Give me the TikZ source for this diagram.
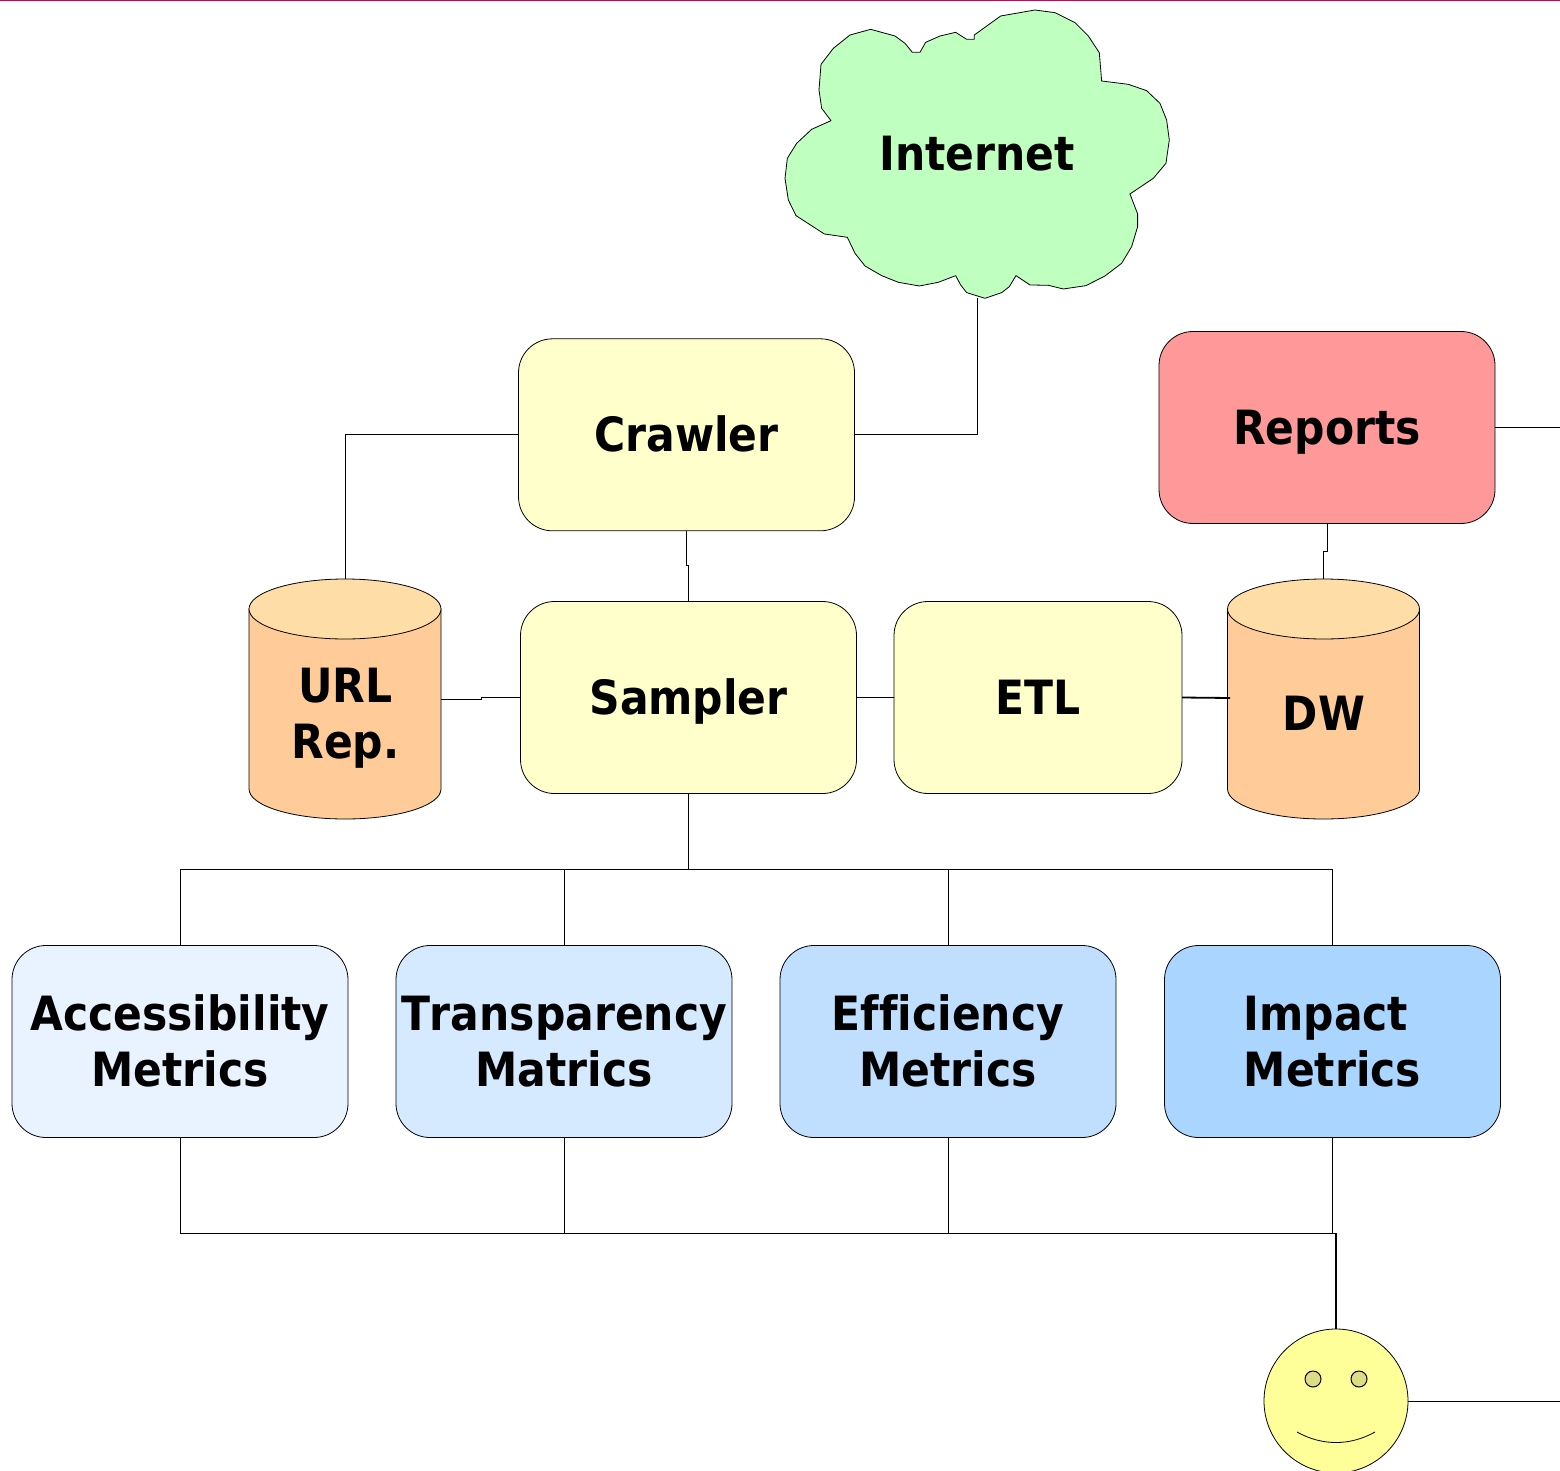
\documentclass[tikz,border=0pt]{standalone}
\usepackage{fontspec}
\setmainfont{DejaVu Sans Condensed}[BoldFont={DejaVu Sans Condensed Bold},Ligatures=NoCommon]
\newcommand{\st}{\rule[-10pt]{0pt}{54pt}}
\definecolor{cylbody}{HTML}{FFCC99}
\definecolor{cyltop}{HTML}{FFDDA6}
\definecolor{boxyellow}{HTML}{FFFFCC}
\definecolor{boxred}{HTML}{FF9999}
\definecolor{mone}{HTML}{E8F3FF}
\definecolor{mtwo}{HTML}{D5E9FF}
\definecolor{mthree}{HTML}{C0DFFF}
\definecolor{mfour}{HTML}{AAD5FF}
\definecolor{cloudgreen}{HTML}{BFFFBF}
\definecolor{smile}{HTML}{FFFF99}
\definecolor{eye}{HTML}{DDDD88}
\definecolor{topline}{HTML}{CC0055}
\tikzset{
  lab/.style={font=\fontsize{47.2}{56}\selectfont\bfseries,align=center,inner sep=0,outer sep=0},
  rbox/.style={lab,draw=black,line width=0.8pt,rounded corners=34pt,minimum width=336pt,minimum height=192pt},
  cylholder/.style={inner sep=0,outer sep=0,minimum width=192pt,minimum height=240pt},
  cylshape/.style={draw=black,line width=0.8pt},
  conn/.style={draw=black,line width=0.8pt},
  connthick/.style={draw=black,line width=1.8pt},
}
\newcommand{\cylinderat}[2]{%
  \path[cylshape,fill=cylbody] (#1-96,#2-90) -- (#1-96,#2+90)
     arc[start angle=180,end angle=360,x radius=96pt,y radius=30pt]
     -- (#1+96,#2-90) -- cycle;
  \path[cylshape,fill=cyltop] (#1,#2-90) ellipse[x radius=96pt,y radius=30pt];
}
\begin{document}
\begin{tikzpicture}[x=1pt,y=-1pt]
\useasboundingbox (0,0) rectangle (1560,1471);
\clip (0,0) rectangle (1560,1471);
\draw[topline,line width=1.6pt] (0,0.4) -- (1560,0.4);
% cloud
\begin{scope}[shift={(770,0)},x=0.3333pt,y=-0.3333pt]
\path[draw=black,line width=0.8pt,fill=cloudgreen,line join=round]
 (692,48)--(795,30)--(855,38)--(915,68)--(955,108)--(988,158)--(995,243)--(1075,253)--(1130,272)--(1170,310)--(1190,360)--(1198,420)--(1188,490)--(1150,535)--(1080,582)--(1103,642)--(1103,680)--(1085,740)--(1055,790)--(1005,828)--(948,857)--(880,867)--(835,856)--(780,855)--(738,827)--(718,860)--(695,878)--(645,895)--(590,878)--(572,855)--(557,827)--(505,847)--(448,858)--(385,847)--(335,827)--(285,798)--(255,760)--(232,712)--(163,702)--(78,647)--(55,600)--(45,535)--(52,475)--(80,430)--(125,388)--(183,362)--(155,325)--(147,270)--(153,193)--(190,145)--(240,105)--(302,88)--(375,108)--(405,130)--(427,157)--(450,157)--(467,127)--(510,108)--(557,97)--(590,118)--(613,118)--(613,105)--cycle;
\end{scope}
\node[lab] (internet) at (977,154) {Internet\st};
\coordinate (internetS) at (977,298);
% boxes
\node[rbox,fill=boxyellow] (crawler) at (686.5,434.8) {Crawler\st};
\node[rbox,fill=boxred] (reports) at (1327,427.5) {Reports\st};
\node[rbox,fill=boxyellow] (sampler) at (688.5,697.5) {Sampler\st};
\node[rbox,fill=boxyellow,minimum width=288pt] (etl) at (1038,697.5) {ETL\st};
% cylinders
\cylinderat{345}{699}
\node[cylholder] (url) at (345,699) {};
\node[lab] (urltext) at (345.5,713.5) {URL\st\\Rep.\st};
\cylinderat{1323.5}{699}
\node[cylholder] (dw) at (1323.5,699) {};
\node[lab] (dwtext) at (1324,713) {DW\st};
\coordinate (dwin) at (1230,698);
% metrics
\node[rbox,fill=mone] (m1) at (180,1041.5) {Accessibility\st\\Metrics\st};
\node[rbox,fill=mtwo] (m2) at (564,1041.5) {T\kern0pt ransparency\st\\Matrics\st};
\node[rbox,fill=mthree] (m3) at (948,1041.5) {Efficiency\st\\Metrics\st};
\node[rbox,fill=mfour] (m4) at (1332.5,1041.5) {Impact\hspace{13pt}\st\\Metrics\st};
% smiley
\node[draw=black,line width=0.8pt,fill=smile,circle,minimum size=144pt,inner sep=0,outer sep=0] (face) at (1336,1401) {};
\node[draw=black,line width=1pt,fill=eye,circle,minimum size=16pt,inner sep=0,outer sep=0] (eyeL) at (1313,1379) {};
\node[draw=black,line width=1pt,fill=eye,circle,minimum size=16pt,inner sep=0,outer sep=0] (eyeR) at (1359,1379) {};
\draw[line width=0.8pt] (1297,1432) .. controls (1322,1446) and (1350,1446) .. (1375,1432);
% routing points
\coordinate (bus) at (688.5,869.6);
\coordinate (collect) at (1336,1233);
\coordinate (reportsout) at (1560,427.5);
\coordinate (faceout) at (1560,1401);
% connectors
\draw[conn] (internetS) |- (crawler.east);
\draw[conn] (crawler.west) -| (url.north);
\draw[conn] (crawler.south) -- ++(0,35) -| (sampler.north);
\draw[conn] (url.east) -- ++(40,0) |- (sampler.west);
\draw[conn] (sampler.east) -- (etl.west);
\draw[connthick] (etl.east) -- (dwin);
\draw[conn] (reports.south) -- ++(0,27.5) -| (dw.north);
\draw[conn] (reports.east) -- (reportsout);
\draw[connthick] (sampler.south) -- (bus);
\draw[conn] (m1.north) |- (bus);
\draw[conn] (m2.north) |- (bus);
\draw[conn] (m3.north) |- (bus);
\draw[conn] (m4.north) |- (bus);
\draw[conn] (m1.south) |- (collect);
\draw[conn] (m2.south) |- (collect);
\draw[conn] (m3.south) |- (collect);
\draw[conn] (m4.south) |- (collect);
\draw[connthick] (collect) -- (face.north);
\draw[conn] (face.east) -- (faceout);
\end{tikzpicture}
\end{document}
